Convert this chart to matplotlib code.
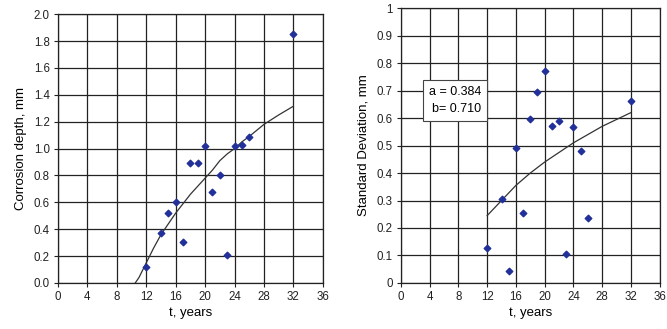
import matplotlib
matplotlib.use('Agg')
import matplotlib.pyplot as plt

plt.rcParams['font.family'] = ['Liberation Sans', 'DejaVu Sans']

# Left panel: corrosion depth data
tDepth = [12, 14, 15, 16, 17, 18, 19, 20, 21, 22, 23, 24, 25, 26, 32]
depth = [0.12, 0.375, 0.52, 0.60, 0.305, 0.89, 0.895, 1.02, 0.68, 0.80, 0.205, 1.02, 1.03, 1.085, 1.85]
# fitted curve
tDepthFit = [10.5, 11, 12, 13, 14, 15, 16, 17, 18, 19, 20, 21, 22, 23, 24, 25, 26, 28, 30, 32]
depthFit = [0.0, 0.04, 0.15, 0.26, 0.36, 0.44, 0.52, 0.59, 0.66, 0.72, 0.78, 0.84, 0.91, 0.96, 1.0, 1.05, 1.09, 1.18, 1.25, 1.315]

# Right panel: standard deviation data
tStd = [12, 14, 15, 16, 17, 18, 19, 20, 21, 22, 23, 24, 25, 26, 32]
stdDev = [0.126, 0.305, 0.045, 0.49, 0.253, 0.595, 0.695, 0.77, 0.573, 0.59, 0.104, 0.566, 0.479, 0.235, 0.664]
tStdFit = [12, 14, 16, 18, 20, 22, 24, 26, 28, 30, 32]
stdFit = [0.245, 0.30, 0.355, 0.40, 0.44, 0.475, 0.51, 0.54, 0.57, 0.595, 0.62]

xTicks = list(range(0, 37, 4))
markerColor = '#22309a'

fig = plt.figure(figsize=(6.67, 3.29), dpi=100)

def styleAxes(ax):
    ax.grid(True, color='#222222', linewidth=0.9)
    ax.set_axisbelow(True)
    for s in ax.spines.values():
        s.set_color('#222222')
        s.set_linewidth(0.9)
    ax.tick_params(direction='out', length=3, width=0.8, labelsize=8.3, pad=3, colors='#222222')
    ax.set_xticks(xTicks)
    ax.set_xlim(0, 36)
    ax.set_xlabel('t, years', fontsize=9.5, labelpad=3)

# left chart
ax1 = fig.add_axes([0.087, 0.140, 0.397, 0.817])
styleAxes(ax1)
ax1.plot(tDepthFit, depthFit, color='#333333', linewidth=0.9)
ax1.scatter(tDepth, depth, marker='D', s=11, color=markerColor, zorder=3)
ax1.set_ylim(0, 2.0)
ax1.set_yticks([i / 10 for i in range(0, 21, 2)])
ax1.set_yticklabels(['%.1f' % (i / 10) for i in range(0, 21, 2)])
ax1.set_ylabel('Corrosion depth, mm', fontsize=9.5, labelpad=5)

# right chart
ax2 = fig.add_axes([0.601, 0.140, 0.388, 0.835])
styleAxes(ax2)
ax2.plot(tStdFit, stdFit, color='#333333', linewidth=0.9)
ax2.scatter(tStd, stdDev, marker='D', s=11, color=markerColor, zorder=3)
ax2.set_ylim(0, 1)
yt = [i / 10 for i in range(0, 11)]
ax2.set_yticks(yt)
ax2.set_yticklabels(['0'] + ['%.1f' % v for v in yt[1:-1]] + ['1'])
ax2.set_ylabel('Standard Deviation, mm', fontsize=9.5, labelpad=5)

ax2.text(7.5, 0.664, 'a = 0.384\nb= 0.710', fontsize=9, ha='center', va='center',
         multialignment='right', linespacing=1.65, zorder=4,
         bbox=dict(boxstyle='square,pad=0.45', facecolor='white', edgecolor='#444444', linewidth=0.8))

plt.savefig('out.png', dpi=100)
